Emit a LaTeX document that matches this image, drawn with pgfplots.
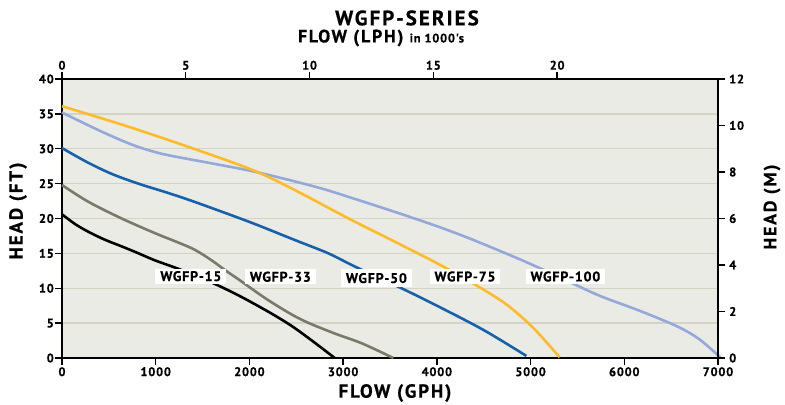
\documentclass[border=0pt]{standalone}
\usepackage{fontspec}
\setmainfont{PT Sans}
\newfontfamily\lsfont{PT Sans}[LetterSpace=6, BoldFeatures={FakeBold=0.6}]
\newfontfamily\lsbig{PT Sans}[LetterSpace=10, BoldFeatures={FakeBold=0.6}]
\usepackage{pgfplots}
\pgfplotsset{compat=1.18}
\definecolor{bg}{HTML}{EBEBE5}
\definecolor{gridc}{HTML}{D4D3C5}
\definecolor{c15}{HTML}{000000}
\definecolor{c33}{HTML}{7A7A6B}
\definecolor{c50}{HTML}{1761AB}
\definecolor{c75}{HTML}{FDBB2A}
\definecolor{c100}{HTML}{94A9DA}
\begin{document}
\begin{tikzpicture}[font=\bfseries]
\begin{axis}[
  name=main, at={(0,0)}, anchor=south west,
  scale only axis, width=656bp, height=279bp,
  xmin=0, xmax=7000, ymin=0, ymax=40,
  axis background/.style={fill=bg},
  axis x line*=bottom, axis y line*=left,
  axis line style={line width=1.6bp, -},
  xtick={0,1000,...,7000}, ytick={0,5,...,40},
  tick align=outside, major tick length=7bp,
  tick style={black, line width=1.4bp},
  ymajorgrids, grid style={gridc, line width=1.3bp},
  /pgf/number format/assume math mode=true,
  /pgf/number format/1000 sep={},
  xticklabel style={font=\fontsize{12.5}{12.5}\selectfont\lsfont\bfseries, inner ysep=2bp},
  yticklabel style={font=\fontsize{12.5}{12.5}\selectfont\lsfont\bfseries, inner xsep=1bp},
  clip=false,
]
\addplot[c100, line width=2.6bp, smooth, tension=0.55] coordinates {
 (0,35.2) (400,32.6) (744,30.6) (1000,29.5) (1200,28.9) (1600,27.9) (2025,26.8) (2400,25.6) (2770,24.3) (3127,22.8) (3607,20.7) (4000,18.9) (4319,17.3) (4700,15.2) (5030,13.3) (5400,11.0) (5741,8.9) (6100,7.1) (6381,5.6) (6600,4.3) (6800,2.7) (7024,0.1)};
\addplot[c75, line width=2.6bp, smooth, tension=0.55] coordinates {
 (0,36.1) (700,33.2) (1385,30.1) (2025,27.0) (2452,24.3) (3073,19.9) (3607,16.3) (4070,13.1) (4461,10.1) (4750,7.6) (5030,4.3) (5310,0.1)};
\addplot[c50, line width=2.6bp, smooth, tension=0.55] coordinates {
 (0,30.1) (265,28.1) (530,26.4) (814,25.0) (1100,23.8) (1348,22.7) (1700,21.0) (2060,19.2) (2487,16.9) (2843,15.0) (3127,13.1) (3607,10.1) (4000,7.5) (4500,4.0) (4955,0.3)};
\addplot[c33, line width=2.6bp, smooth, tension=0.55] coordinates {
 (0,24.8) (281,22.4) (637,20.0) (992,17.9) (1250,16.5) (1419,15.5) (1597,14.0) (1750,12.5) (1881,11.3) (2200,8.3) (2540,5.6) (2894,3.6) (3200,2.1) (3535,0)};
\addplot[c15, line width=2.6bp, smooth, tension=0.55] coordinates {
 (0,20.6) (140,19.2) (281,18.1) (450,17.0) (637,16.0) (800,15.1) (992,14.0) (1277,12.6) (1650,10.5) (2006,8.1) (2450,4.6) (2910,0)};
\tikzset{lbl/.style={fill=white, inner xsep=5bp, inner ysep=0pt, minimum height=15bp, text depth=0pt, font=\fontsize{14}{14}\selectfont\lsfont\bfseries}}
\node[lbl] at (axis cs:1375,11.75) {WGFP-15};
\node[lbl] at (axis cs:2330,11.66) {WGFP-33};
\node[lbl, minimum height=18bp] at (axis cs:3355,11.47) {WGFP-50};
\node[lbl] at (axis cs:4300,11.7) {WGFP-75};
\node[lbl] at (axis cs:5372,11.7) {WGFP-100};
\end{axis}
\begin{axis}[
  at={(0,0)}, anchor=south west,
  scale only axis, width=656bp, height=279bp,
  xmin=0, xmax=26.498, ymin=0, ymax=12,
  axis x line*=top, axis y line*=right,
  axis line style={line width=1.6bp, -},
  xtick={0,5,...,20}, ytick={0,2,...,12},
  tick align=outside, major tick length=7bp,
  tick style={black, line width=1.4bp},
  /pgf/number format/assume math mode=true,
  xticklabel style={font=\fontsize{12.5}{12.5}\selectfont\lsfont\bfseries, inner ysep=2bp},
  yticklabel style={font=\fontsize{12.5}{12.5}\selectfont\lsfont\bfseries, inner xsep=4bp},
]
\end{axis}
\node[rotate=90, font=\fontsize{19}{19}\selectfont\lsbig\bfseries] at (-44bp,147bp) {HEAD (FT)};
\node[rotate=90, font=\fontsize{18}{18}\selectfont\lsbig\bfseries] at (710bp,151bp) {HEAD (M)};
\node[font=\fontsize{19}{19}\selectfont\lsbig\bfseries] at (333bp,-35bp) {FLOW (GPH)};
\node[font=\fontsize{21}{21}\selectfont\lsbig\bfseries] at (345bp,340bp) {WGFP-SERIES};
\node[font=\fontsize{18}{18}\selectfont\lsbig\bfseries] at (319bp,320bp) {FLOW (LPH) {\fontsize{12.5}{12.5}\selectfont\lsfont\bfseries in 1000's}};
\pgfresetboundingbox
\useasboundingbox (-62bp,-47bp) rectangle (723bp,358bp);
\end{tikzpicture}
\end{document}
